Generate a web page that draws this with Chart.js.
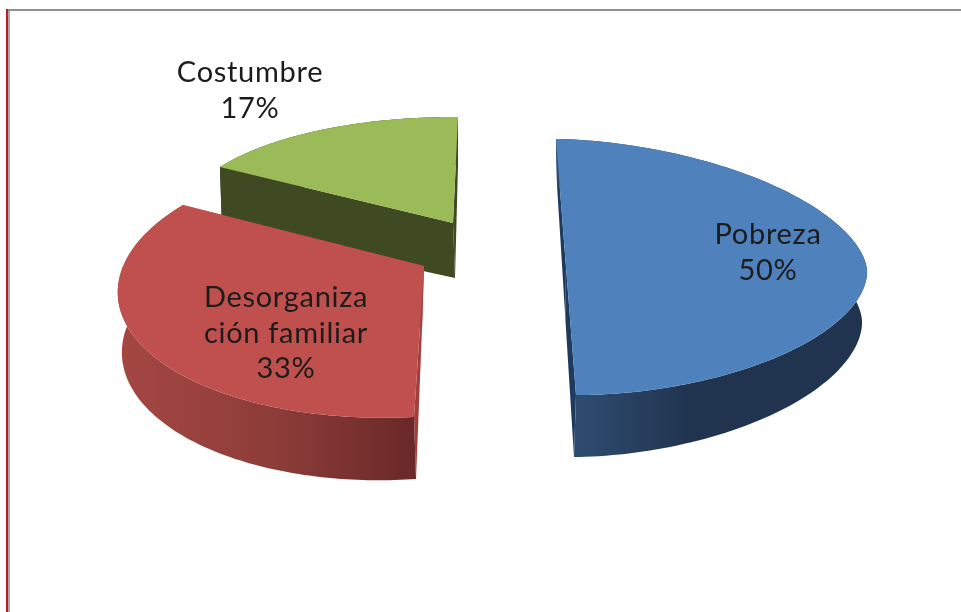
<!DOCTYPE html>
<html>
<head>
<meta charset="utf-8">
<script src="https://cdn.jsdelivr.net/npm/chart.js@4"></script>
<style>
html,body{margin:0;padding:0;background:#fff;width:961px;height:612px;overflow:hidden}
#wrap{position:relative;width:961px;height:612px}
canvas{position:absolute;left:0;top:0;filter:blur(0.6px)}
.t{position:absolute;left:6px;top:9px;width:955px;height:2px;background:#8f8f8f}
.l{position:absolute;left:6px;top:9px;width:2px;height:603px;background:#b8201f}
.g{position:absolute;left:8px;top:11px;width:2px;height:601px;background:#a9a9a9}
</style>
</head>
<body>
<div id="wrap">
<canvas id="c" width="961" height="612"></canvas>
<div class="t"></div><div class="l"></div><div class="g"></div>
</div>
<script>
const categories = ["Pobreza", "Desorganización familiar", "Costumbre"];
const values = [50, 33, 17];
const colors = ["#4f81bd", "#c0504d", "#9bbb59"];
const wrappedLabels = [["Pobreza"], ["Desorganiza", "ción familiar"], ["Costumbre"]];

function solve(A, b) {
  const n = b.length, M = A.map((r, i) => r.concat(b[i]));
  for (let i = 0; i < n; i++) {
    let p = i;
    for (let k = i + 1; k < n; k++) if (Math.abs(M[k][i]) > Math.abs(M[p][i])) p = k;
    [M[i], M[p]] = [M[p], M[i]];
    for (let k = 0; k < n; k++) {
      if (k === i) continue;
      const f = M[k][i] / M[i][i];
      for (let j = i; j <= n; j++) M[k][j] -= f * M[i][j];
    }
  }
  return M.map((r, i) => r[n] / r[i]);
}
function homography(pairs, warp) {
  const k = warp || 1;
  const w = v => Math.sign(v) * Math.pow(Math.abs(v), k);
  const A = [], b = [];
  pairs.forEach(([x0, y0, X, Y]) => {
    const x = w(x0), y = w(y0);
    A.push([x, y, 1, 0, 0, 0, -x * X, -y * X]); b.push(X);
    A.push([0, 0, 0, x, y, 1, -x * Y, -y * Y]); b.push(Y);
  });
  const h = solve(A, b);
  return (x0, y0) => {
    const x = w(x0), y = w(y0);
    const d = h[6] * x + h[7] * y + 1;
    return [(h[0] * x + h[1] * y + h[2]) / d, (h[3] * x + h[4] * y + h[5]) / d];
  };
}

/* perspective view of each exploded slice: top face and bottom face */
const views = [
  { top: homography([[0,-1,556,139],[0,1,576,395],[1,0,867,270],[-1,0,265,264]], 1.1),
    bottom: homography([[0,-1,557,185],[0,1,574,457],[1,0,862,320],[-1,0,268,320]], 1.1),
    rim: [[576,"#2f4c70"],[690,"#203450"],[870,"#203450"]], cut: "#1f3a5f", labelAt: [768, 235] },
  { top: homography([[0,0,424,266],[0,1,414,417],[-.876,-.482,183,205],[-1,0,122,269]]),
    bottom: homography([[0,0,422,328],[0,1,416,479],[-.876,-.482,187,264],[-1,0,126,329]]),
    rim: [[118,"#a54743"],[280,"#8c3c38"],[416,"#6a2828"]], cut: "#a03f3c", labelAt: [286, 298] },
  { top: homography([[0,0,453,223],[0,-1,458,117],[-.876,-.482,220,167],[-.5,-.866,323,129.5]]),
    bottom: homography([[0,0,455,278],[0,-1,458,165],[-.876,-.482,222,227],[-.5,-.866,323,182]]),
    rim: [[220,"#3f4a23"],[460,"#3f4a23"]], cut: "#3f4a23", labelAt: [250, 73] }
];

function poly(ctx, pts, fill) {
  ctx.beginPath();
  pts.forEach((p, i) => i ? ctx.lineTo(p[0], p[1]) : ctx.moveTo(p[0], p[1]));
  ctx.closePath();
  ctx.fillStyle = fill;
  ctx.fill();
}
function arcPoints(map, a0, a1) {
  const pts = [];
  for (let i = 0; i <= 120; i++) {
    const a = a0 + (a1 - a0) * i / 120;
    pts.push(map(Math.cos(a), Math.sin(a)));
  }
  return pts;
}

const slice3d = {
  id: "slice3d",
  beforeDatasetsDraw(chart) {
    const ctx = chart.ctx, arcs = chart.getDatasetMeta(0).data;
    const total = values.reduce((a, b) => a + b, 0);
    [2, 0, 1].forEach(i => {
      const el = arcs[i], v = views[i];
      const { startAngle: s, endAngle: e } = el.getProps(["startAngle", "endAngle"], true);
      const topArc = arcPoints(v.top, s, e), botArc = arcPoints(v.bottom, s, e);
      const t0 = v.top(0, 0), b0 = v.bottom(0, 0);
      ctx.save();
      const g = ctx.createLinearGradient(v.rim[0][0], 0, v.rim[v.rim.length - 1][0], 0);
      const span = v.rim[v.rim.length - 1][0] - v.rim[0][0];
      v.rim.forEach(([x, c]) => g.addColorStop((x - v.rim[0][0]) / span, c));
      poly(ctx, [t0, topArc[0], botArc[0], b0], v.cut);
      poly(ctx, [t0, topArc[120], botArc[120], b0], v.cut);
      poly(ctx, topArc.concat(botArc.slice().reverse()), g);
      poly(ctx, [t0].concat(topArc), el.options.backgroundColor);
      ctx.restore();
    });
    ctx.save();
    ctx.fillStyle = "#1c1c1c";
    ctx.textAlign = "center";
    ctx.textBaseline = "middle";
    ctx.font = '29px Lato, sans-serif';
    ctx.letterSpacing = "0.7px";
    arcs.forEach((el, i) => {
      const lines = wrappedLabels[i].concat(Math.round(values[i] / total * 100) + "%");
      const [x, y] = views[i].labelAt;
      lines.forEach((ln, k) => ctx.fillText(ln, x, y + k * 35.5));
    });
    ctx.restore();
    return false;
  }
};

new Chart(document.getElementById("c"), {
  type: "pie",
  data: { labels: categories, datasets: [{ data: values, backgroundColor: colors, borderWidth: 0 }] },
  options: {
    responsive: false,
    animation: false,
    plugins: { legend: { display: false }, tooltip: { enabled: false } }
  },
  plugins: [slice3d]
});
</script>
</body>
</html>
